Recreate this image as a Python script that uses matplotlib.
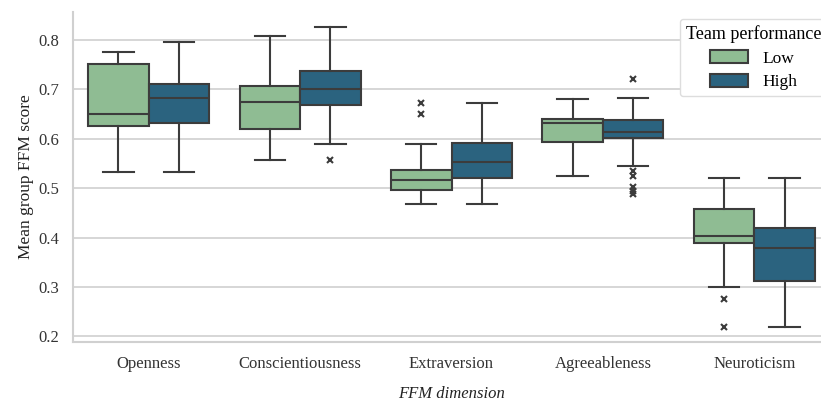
import matplotlib
matplotlib.use("Agg")
import matplotlib.pyplot as plt
from matplotlib.patches import Patch

dimensions = ["Openness", "Conscientiousness", "Extraversion", "Agreeableness", "Neuroticism"]
groups = ["Low", "High"]
colors = {"Low": "#8fbc93", "High": "#2b637f"}

# box statistics, one list per group, in dimension order
low_whislo = [0.532, 0.557, 0.467, 0.525, 0.300]
low_q1 = [0.625, 0.620, 0.496, 0.593, 0.388]
low_med = [0.651, 0.674, 0.517, 0.632, 0.403]
low_q3 = [0.751, 0.706, 0.537, 0.640, 0.457]
low_whishi = [0.776, 0.808, 0.590, 0.681, 0.521]
low_fliers = [[], [], [0.673, 0.651], [], [0.275, 0.219]]

high_whislo = [0.532, 0.589, 0.467, 0.544, 0.219]
high_q1 = [0.632, 0.669, 0.521, 0.601, 0.312]
high_med = [0.682, 0.701, 0.552, 0.614, 0.378]
high_q3 = [0.711, 0.737, 0.591, 0.638, 0.420]
high_whishi = [0.795, 0.826, 0.673, 0.683, 0.521]
high_fliers = [[], [0.557], [], [0.720, 0.535, 0.525, 0.502, 0.495, 0.488], []]

yticks = [0.2, 0.3, 0.4, 0.5, 0.6, 0.7, 0.8]

plt.rcParams["font.family"] = ["Liberation Serif", "DejaVu Serif"]
plt.rcParams["font.size"] = 12

line_c = "#3c3c3c"
grid_c = "#d0d0d0"

fig = plt.figure(figsize=(8.21, 4.04), dpi=100)
ax = fig.add_axes([73 / 821, 62 / 404, 757 / 821, 330 / 404])


def make_stats(wlo, q1, med, q3, whi, fl):
    return [dict(whislo=a, q1=b, med=c, q3=d, whishi=e, fliers=f)
            for a, b, c, d, e, f in zip(wlo, q1, med, q3, whi, fl)]


stats = {
    "Low": make_stats(low_whislo, low_q1, low_med, low_q3, low_whishi, low_fliers),
    "High": make_stats(high_whislo, high_q1, high_med, high_q3, high_whishi, high_fliers),
}

offsets = {"Low": -0.2, "High": 0.2}
for g in groups:
    pos = [i + offsets[g] for i in range(len(dimensions))]
    ax.bxp(stats[g], positions=pos, widths=0.4, patch_artist=True,
           showfliers=True, manage_ticks=False,
           boxprops=dict(facecolor=colors[g], edgecolor=line_c, linewidth=1.5),
           medianprops=dict(color=line_c, linewidth=1.5),
           whiskerprops=dict(color=line_c, linewidth=1.5),
           capprops=dict(color=line_c, linewidth=1.5),
           flierprops=dict(marker="x", markersize=4, markeredgewidth=1.5,
                           markeredgecolor=line_c, linestyle="none"),
           zorder=3)

ax.set_xlim(-0.5, len(dimensions) - 0.5)
ax.set_ylim(0.1885, 0.8565)
ax.set_xticks(range(len(dimensions)))
ax.set_xticklabels(dimensions)
ax.set_yticks(yticks)
ax.set_yticklabels([f"{v:.1f}" for v in yticks])
ax.tick_params(length=0, pad=10, labelsize=12, colors="#333333")

ax.yaxis.grid(True, color=grid_c, linewidth=1.2, zorder=0)
ax.set_axisbelow(True)
for s in ["top", "right"]:
    ax.spines[s].set_visible(False)
for s in ["left", "bottom"]:
    ax.spines[s].set_color(grid_c)
    ax.spines[s].set_linewidth(1.5)

ax.set_ylabel("Mean group FFM score", fontsize=12.5, color="#222222", labelpad=3)
ax.set_xlabel("FFM dimension", fontsize=12, style="italic", color="#222222", labelpad=10)

handles = [Patch(facecolor=colors[g], edgecolor=line_c, linewidth=1.5, label=g) for g in groups]
leg = fig.legend(handles=handles, title="Team performance", loc="upper left",
                 bbox_to_anchor=(680 / 821, 1 - 19 / 404), borderaxespad=0,
                 fontsize=12.5, title_fontsize=13, frameon=True, fancybox=True,
                 borderpad=0.35, handlelength=2.2, handleheight=0.8,
                 labelspacing=0.4, handletextpad=0.8)
leg.get_frame().set_edgecolor("#dddddd")
leg.get_frame().set_facecolor("white")
leg.get_frame().set_alpha(1.0)

fig.savefig("out.png", dpi=100)
